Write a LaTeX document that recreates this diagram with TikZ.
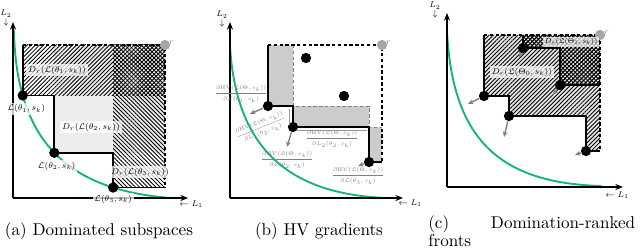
\documentclass[tikz,border=0pt]{standalone}
\usepackage{amsmath,amssymb}
\usepackage{tikz}
\usetikzlibrary{arrows.meta,patterns,patterns.meta,positioning}
\definecolor{pfgreen}{RGB}{20,180,125}
\tikzset{
  ax/.style={line width=1.1pt,-{Stealth[length=4.5pt,width=3.6pt]}},
  pf/.style={pfgreen,line width=1.1pt},
  stp/.style={line width=1.1pt},
  bnd/.style={line width=0.9pt,dash pattern=on 2pt off 1.4pt},
  thn/.style={gray,line width=0.45pt,dash pattern=on 2pt off 1.4pt},
  pt/.style={circle,fill=black,inner sep=0pt,minimum size=6pt},
  rp/.style={circle,fill=gray!70,inner sep=0pt,minimum size=6pt},
  gr/.style={gray,line width=0.8pt,-{Stealth[length=3.2pt,width=2.8pt]}},
  msr/.style={gray!80,line width=0.5pt},
  lbl/.style={font=\scriptsize,scale=0.7,inner sep=1.5pt},
  box/.style={lbl,fill=white,fill opacity=0.75,text opacity=1},
  frc/.style={font=\tiny,scale=0.64,text=gray,inner sep=0.5pt},
  hne/.style={pattern={Lines[angle=45,distance=1.7pt,line width=0.5pt]}},
  hnw/.style={pattern={Lines[angle=-45,distance=1.7pt,line width=0.5pt]}},
  hxx/.style={pattern={Hatch[angle=45,distance=1.7pt,line width=0.5pt]}},
  captxt/.style={font=\fontsize{10}{11}\selectfont,inner sep=0pt}
}
\newcommand{\hvfrac}[1]{$\dfrac{\partial\mathrm{HV}(\mathfrak{L}(\Theta,s_k))}{\partial #1}$}

\begin{document}
\begin{tikzpicture}[x=0.585pt,y=-0.585pt]
\useasboundingbox (0,0) rectangle (640,249);
% (a)
\path (14,30) .. controls (16,150) and (76,190) .. (170,198)
  coordinate[pos=0.21] (a1) coordinate[pos=0.48] (a2) coordinate[pos=0.78] (a3);
\coordinate (ar) at (165,45);
\coordinate (ao) at (13,198); \coordinate (ay) at (13,22); \coordinate (ax) at (188,198);
\fill[gray!15] (a2) rectangle (ar);
\fill[hne] (a1) rectangle (ar);
\fill[hnw] (a3) rectangle (ar);
\draw[pf] (14,30) .. controls (16,150) and (76,190) .. (170,198);
\draw[ax] (ao) -- (ay);
\draw[ax] (ao) -- (ax);
\draw[stp] (a1 |- ar) -- (a1) -| (a2) -| (a3) -- (a3 -| ar);
\draw[bnd] (a1 |- ar) -- (ar) -- (a3 -| ar);
\node[pt] (t1) at (a1) {};
\node[pt] (t2) at (a2) {};
\node[pt] (t3) at (a3) {};
\node[rp] (rA) at (ar) {};
\node[lbl,text=gray,above right=-3pt and -1pt of rA] (rAl) {$r$};
\node[lbl,align=center] (aL2) at (6,18) {$L_2$\\[-1pt]$\downarrow$};
\node[lbl] (aL1) at (191,204) {$\leftarrow L_1$};
\node[box] (D1) at (57,70) {$D_r(\mathcal{L}(\theta_1,s_k))$};
\node[box] (D2) at (91,127) {$D_r(\mathcal{L}(\theta_2,s_k))$};
\node[box] (D3) at (140,172) {$D_r(\mathcal{L}(\theta_3,s_k))$};
\node[box,below=1pt of t1,xshift=3pt] (l1) {$\mathcal{L}(\theta_1,s_k)$};
\node[box,below=1pt of t2,xshift=2pt] (l2) {$\mathcal{L}(\theta_2,s_k)$};
\node[box,below=0pt of t3] (l3) {$\mathcal{L}(\theta_3,s_k)$};
% (b)
\coordinate (b1) at (268,106); \coordinate (b2) at (293,127); \coordinate (b3) at (369,162);
\coordinate (br) at (382,45);
\coordinate (bo) at (230,198); \coordinate (by) at (230,22); \coordinate (bx) at (403,198);
\fill[gray!40] (b1 |- br) rectangle (b2 |- b1);
\fill[gray!40] (b2 |- b1) rectangle (b3 |- b2);
\fill[gray!40] (b3 |- b2) rectangle (br |- b3);
\draw[thn] (b2 |- br) -- (b2 |- b1) -- (b3 |- b1) -- (b3 |- b2) -- (br |- b2);
\draw[pf] (230,46) .. controls (236,150) and (290,194) .. (386,198);
\draw[ax] (bo) -- (by);
\draw[ax] (bo) -- (bx);
\draw[stp] (b1 |- br) -- (b1) -| (b2) -| (b3) -- (br |- b3);
\draw[bnd] (b1 |- br) -- (br) -- (br |- b3);
\node[pt] (q1) at (b1) {};
\node[pt] (q2) at (b2) {};
\node[pt] (q3) at (b3) {};
\node[pt] (q4) at (306,58) {};
\node[pt] (q5) at (344,96) {};
\node[rp] (rB) at (br) {};
\node[lbl,text=gray,above right=-3pt and -1pt of rB] (rBl) {$r$};
\coordinate (g1) at (250,114); \coordinate (g2) at (287,147); \coordinate (g3) at (358,166);
\draw[gr] (q1) -- (g1);
\draw[gr] (q2) -- (g2);
\draw[gr] (q3) -- (g3);
\coordinate (m1) at (289,109); \coordinate (m2) at (289,125);
\coordinate (m3) at (296,130); \coordinate (m4) at (367,130);
\draw[msr] (m1) -- (m2);
\draw[msr] (m3) -- (m4);
\node[lbl,align=center] (bL2) at (222,19) {$L_2$\\[-1pt]$\downarrow$};
\node[lbl] (bL1) at (410,203) {$\leftarrow L_1$};
\node[frc] (f1) at (241,94) {\hvfrac{\mathcal{L}(\theta_1,s_k)}};
\node[frc,rotate=22] (f2) at (261,128) {\hvfrac{L_1(\theta_2,s_k)}};
\node[frc] (f3) at (287,160) {\hvfrac{\mathcal{L}(\theta_2,s_k)}};
\node[frc] (f4) at (332,139) {\hvfrac{L_2(\theta_2,s_k)}};
\node[frc] (f5) at (358,176) {\hvfrac{\mathcal{L}(\theta_3,s_k)}};
% (c)
\coordinate (c1) at (484,96); \coordinate (c2) at (509,116); \coordinate (c3) at (586,151);
\coordinate (u1) at (523,48); \coordinate (u2) at (560,85);
\coordinate (cr) at (600,35);
\coordinate (co) at (447,187); \coordinate (cy) at (447,13); \coordinate (cx) at (623,187);
\path[hne,preaction={fill=gray!20}] (c1 |- cr) -- (c1) -| (c2) -| (c3) -- (cr |- c3) -- (cr) -- cycle;
\path[hxx] (u1 |- cr) -- (u1) -| (u2) -- (cr |- u2) -- (cr) -- cycle;
\draw[pf] (447,30) .. controls (452,140) and (500,183) .. (601,186);
\draw[ax] (co) -- (cy);
\draw[ax] (co) -- (cx);
\draw[stp] (c1 |- cr) -- (c1) -| (c2) -| (c3) -- (cr |- c3);
\draw[stp] (u1 |- cr) -- (u1) -| (u2) -- (cr |- u2);
\draw[bnd] (c1 |- cr) -- (cr) -- (cr |- c3);
\node[pt] (k1) at (c1) {};
\node[pt] (k2) at (c2) {};
\node[pt] (k3) at (c3) {};
\node[pt] (k4) at (u1) {};
\node[pt] (k5) at (u2) {};
\node[rp] (rC) at (cr) {};
\node[lbl,text=gray,above right=-3pt and -1pt of rC] (rCl) {$r$};
\coordinate (h1) at (468,104); \coordinate (h2) at (504,137); \coordinate (h3) at (575,155);
\coordinate (h4) at (519,57); \coordinate (h5) at (553,95);
\draw[gr] (k1) -- (h1);
\draw[gr] (k2) -- (h2);
\draw[gr] (k3) -- (h3);
\draw[gr] (k4) -- (h4);
\draw[gr] (k5) -- (h5);
\node[lbl,align=center] (cL2) at (435,10) {$L_2$\\[-1pt]$\downarrow$};
\node[lbl] (cL1) at (617,195) {$\leftarrow L_1$};
\node[box] (E0) at (522,72) {$D_r(\mathfrak{L}(\Theta_0,s_k))$};
\node[box,scale=0.87] (E1) at (571,42) {$D_r(\mathfrak{L}(\Theta_1,s_k))$};
% captions
\node[captxt] (capa) at (99,231) {(a) Dominated subspaces};
\node[captxt] (capb) at (319,231) {(b) HV gradients};
\node[captxt,anchor=north west,text width=121pt,align=justify] (capc) at (428,215) {(c) Domination-ranked\linebreak fronts};
\end{tikzpicture}
\end{document}
